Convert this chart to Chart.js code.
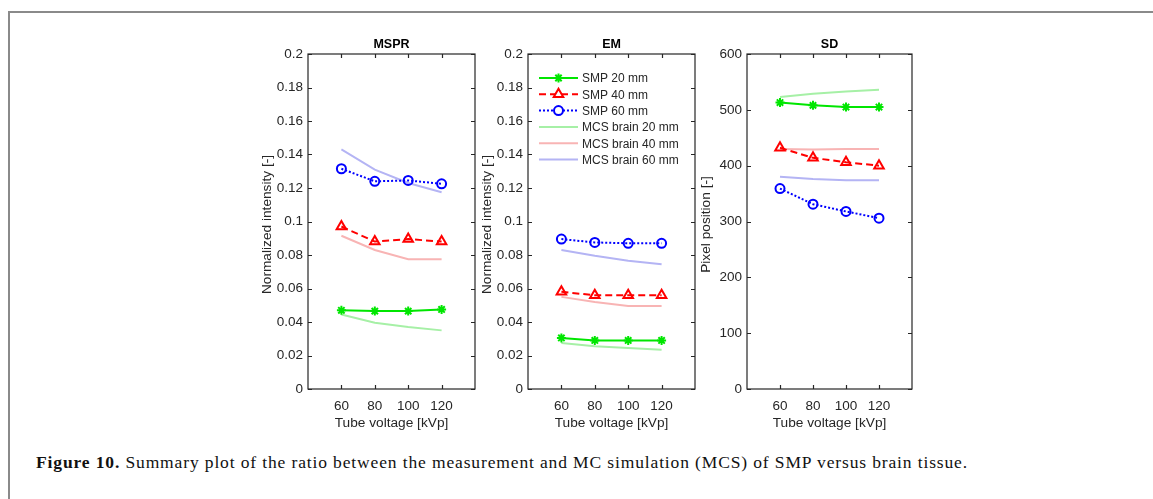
<!DOCTYPE html>
<html>
<head>
<meta charset="utf-8">
<script src="https://cdn.jsdelivr.net/npm/chart.js@4/dist/chart.umd.min.js"></script>
<style>
  body { margin: 0; background: #fff; }
  #page { position: relative; width: 1153px; height: 499px; overflow: hidden; }
  #frame { position: absolute; left: 8px; top: 11px; width: 1200px; height: 600px;
           border-left: 2px solid #8a8a8a; border-top: 2px solid #8a8a8a; }
  .panel { position: absolute; top: 30px; }
  #caption { position: absolute; left: 36px; top: 452px; font-family: "Liberation Serif", serif;
             font-size: 17.5px; color: #111; white-space: nowrap; }
</style>
</head>
<body>
<div id="page">
  <div id="frame"></div>
  <canvas id="mspr" class="panel" width="250" height="410" style="left:240px"></canvas>
  <canvas id="em" class="panel" width="250" height="410" style="left:460px"></canvas>
  <canvas id="sd" class="panel" width="250" height="410" style="left:679px"></canvas>
  <div id="caption"><b>Figure 10.</b> Summary plot of the ratio between the measurement and MC simulation (MCS) of SMP versus brain tissue.</div>
</div>
<script>
// tube voltage [kVp]
var kvp = [60, 80, 100, 120];
var xTicks = [60, 80, 100, 120];
var seriesNames = ['SMP 20 mm', 'SMP 40 mm', 'SMP 60 mm', 'MCS brain 20 mm', 'MCS brain 40 mm', 'MCS brain 60 mm'];

// MSPR
var msprSmp20 = [0.047, 0.0465, 0.0465, 0.0475];
var msprSmp40 = [0.097, 0.088, 0.0895, 0.088];
var msprSmp60 = [0.1315, 0.124, 0.1245, 0.1225];
var msprMcs20 = [0.0445, 0.0395, 0.037, 0.035];
var msprMcs40 = [0.0915, 0.083, 0.0775, 0.0775];
var msprMcs60 = [0.143, 0.131, 0.123, 0.1175];

// EM
var emSmp20 = [0.0305, 0.029, 0.029, 0.029];
var emSmp40 = [0.058, 0.056, 0.056, 0.056];
var emSmp60 = [0.0895, 0.0875, 0.087, 0.087];
var emMcs20 = [0.0275, 0.0255, 0.0245, 0.0235];
var emMcs40 = [0.055, 0.052, 0.0495, 0.0495];
var emMcs60 = [0.083, 0.0795, 0.0765, 0.0745];

// SD
var sdSmp20 = [513, 508, 505, 505];
var sdSmp40 = [432, 414, 406, 400];
var sdSmp60 = [359, 331, 318, 306];
var sdMcs20 = [523, 529, 533, 536];
var sdMcs40 = [430, 429, 430, 430];
var sdMcs60 = [380, 376, 374, 374];

var FONT = '"Liberation Sans", Arial, sans-serif';
var AXIS = '#262626';

// style per series, same order as seriesNames
var styles = [
  { color: '#00e600', dash: [], marker: 'star', r: 4.5 },
  { color: '#ff0000', dash: [7, 4], marker: 'triangle', r: 5.5 },
  { color: '#0000ff', dash: [2, 2], marker: 'circle', r: 4.5 },
  { color: '#a6f0a6', dash: [], marker: false },
  { color: '#f8b4b4', dash: [], marker: false },
  { color: '#b4b4f4', dash: [], marker: false }
];

function makeSets(arrs) {
  return arrs.map(function (vals, i) {
    var s = styles[i];
    return {
      label: seriesNames[i],
      data: kvp.map(function (k, j) { return { x: k, y: vals[j] }; }),
      borderColor: s.color,
      backgroundColor: 'rgba(0,0,0,0)',
      borderWidth: 2,
      borderDash: s.dash,
      pointStyle: s.marker || 'circle',
      pointRadius: s.marker ? s.r : 0,
      pointBorderWidth: 2,
      pointBorderColor: s.color,
      pointBackgroundColor: 'rgba(0,0,0,0)',
      order: i < 3 ? 0 : 1,
      tension: 0
    };
  });
}

// box, inward ticks, titles and optional legend
var boxPlugin = {
  id: 'box',
  afterDraw: function (chart) {
    var c = chart.ctx, a = chart.chartArea, o = chart.options.plugins.box;
    var xs = chart.scales.x, ys = chart.scales.y;
    c.save();
    c.strokeStyle = AXIS;
    c.lineWidth = 1.2;
    c.strokeRect(a.left, a.top, a.right - a.left, a.bottom - a.top);
    c.beginPath();
    xTicks.forEach(function (v) {
      var px = Math.round(xs.getPixelForValue(v)) + 0.5;
      c.moveTo(px, a.bottom); c.lineTo(px, a.bottom - 4);
      c.moveTo(px, a.top); c.lineTo(px, a.top + 4);
    });
    ys.ticks.forEach(function (t) {
      var py = Math.round(ys.getPixelForValue(t.value)) + 0.5;
      c.moveTo(a.left, py); c.lineTo(a.left + 4, py);
      c.moveTo(a.right, py); c.lineTo(a.right - 4, py);
    });
    c.stroke();
    c.fillStyle = '#000';
    c.textAlign = 'center';
    c.textBaseline = 'middle';
    c.font = 'bold 12.5px ' + FONT;
    c.fillText(o.title, (a.left + a.right) / 2, a.top - 9);
    c.fillStyle = AXIS;
    c.font = '13.7px ' + FONT;
    c.fillText('Tube voltage [kVp]', (a.left + a.right) / 2, a.bottom + 34);
    c.save();
    c.translate(a.left - 41, (a.top + a.bottom) / 2 + 3);
    c.rotate(-Math.PI / 2);
    c.fillText(o.ytitle, 0, 0);
    c.restore();
    if (o.legend) {
      c.textAlign = 'left';
      c.font = '12px ' + FONT;
      seriesNames.forEach(function (name, i) {
        var s = styles[i];
        var y = a.top + 24 + i * 16.3;
        var x0 = a.left + 11, x1 = a.left + 50;
        c.strokeStyle = s.color;
        c.lineWidth = 2;
        c.setLineDash(s.dash);
        c.beginPath(); c.moveTo(x0, y); c.lineTo(x1, y); c.stroke();
        c.setLineDash([]);
        if (s.marker) {
          c.fillStyle = '#fff';
          Chart.helpers.drawPoint(c, { pointStyle: s.marker, radius: s.r, rotation: 0, borderWidth: 2 }, (x0 + x1) / 2, y);
        }
        c.fillStyle = AXIS;
        c.fillText(name, x1 + 4, y + 1);
      });
    }
    c.restore();
  }
};

function makeChart(id, arrs, ymax, ystep, title, ytitle, legend, rightPad) {
  new Chart(document.getElementById(id), {
    type: 'line',
    data: { datasets: makeSets(arrs) },
    plugins: [boxPlugin],
    options: {
      responsive: false,
      animation: false,
      layout: { padding: { top: 24, right: rightPad, bottom: 0, left: 0 } },
      plugins: {
        legend: { display: false },
        tooltip: { enabled: false },
        box: { title: title, ytitle: ytitle, legend: legend }
      },
      scales: {
        x: {
          type: 'linear', min: 40, max: 140,
          grid: { display: false, drawTicks: false },
          border: { display: false },
          afterBuildTicks: function (s) { s.ticks = xTicks.map(function (v) { return { value: v }; }); },
          afterFit: function (s) { s.height = 51; },
          ticks: { padding: 9, color: AXIS, font: { family: FONT, size: 13.5 } }
        },
        y: {
          min: 0, max: ymax,
          grid: { display: false, drawTicks: false },
          border: { display: false },
          afterFit: function (s) { s.width = 68; },
          ticks: {
            stepSize: ystep, padding: 5, color: AXIS, font: { family: FONT, size: 13.5 },
            callback: function (v) { return String(+v.toFixed(4)); }
          }
        }
      }
    }
  });
}

makeChart('mspr', [msprSmp20, msprSmp40, msprSmp60, msprMcs20, msprMcs40, msprMcs60],
  0.2, 0.02, 'MSPR', 'Normalized intensity [-]', false, 15);
makeChart('em', [emSmp20, emSmp40, emSmp60, emMcs20, emMcs40, emMcs60],
  0.2, 0.02, 'EM', 'Normalized intensity [-]', true, 15);
makeChart('sd', [sdSmp20, sdSmp40, sdSmp60, sdMcs20, sdMcs40, sdMcs60],
  600, 100, 'SD', 'Pixel position [-]', false, 17);

// stretch the caption to the width it has in the figure
var cap = document.getElementById('caption');
var n = cap.textContent.length;
var w = cap.getBoundingClientRect().width;
cap.style.letterSpacing = ((932 - w) / n) + 'px';
</script>
</body>
</html>
